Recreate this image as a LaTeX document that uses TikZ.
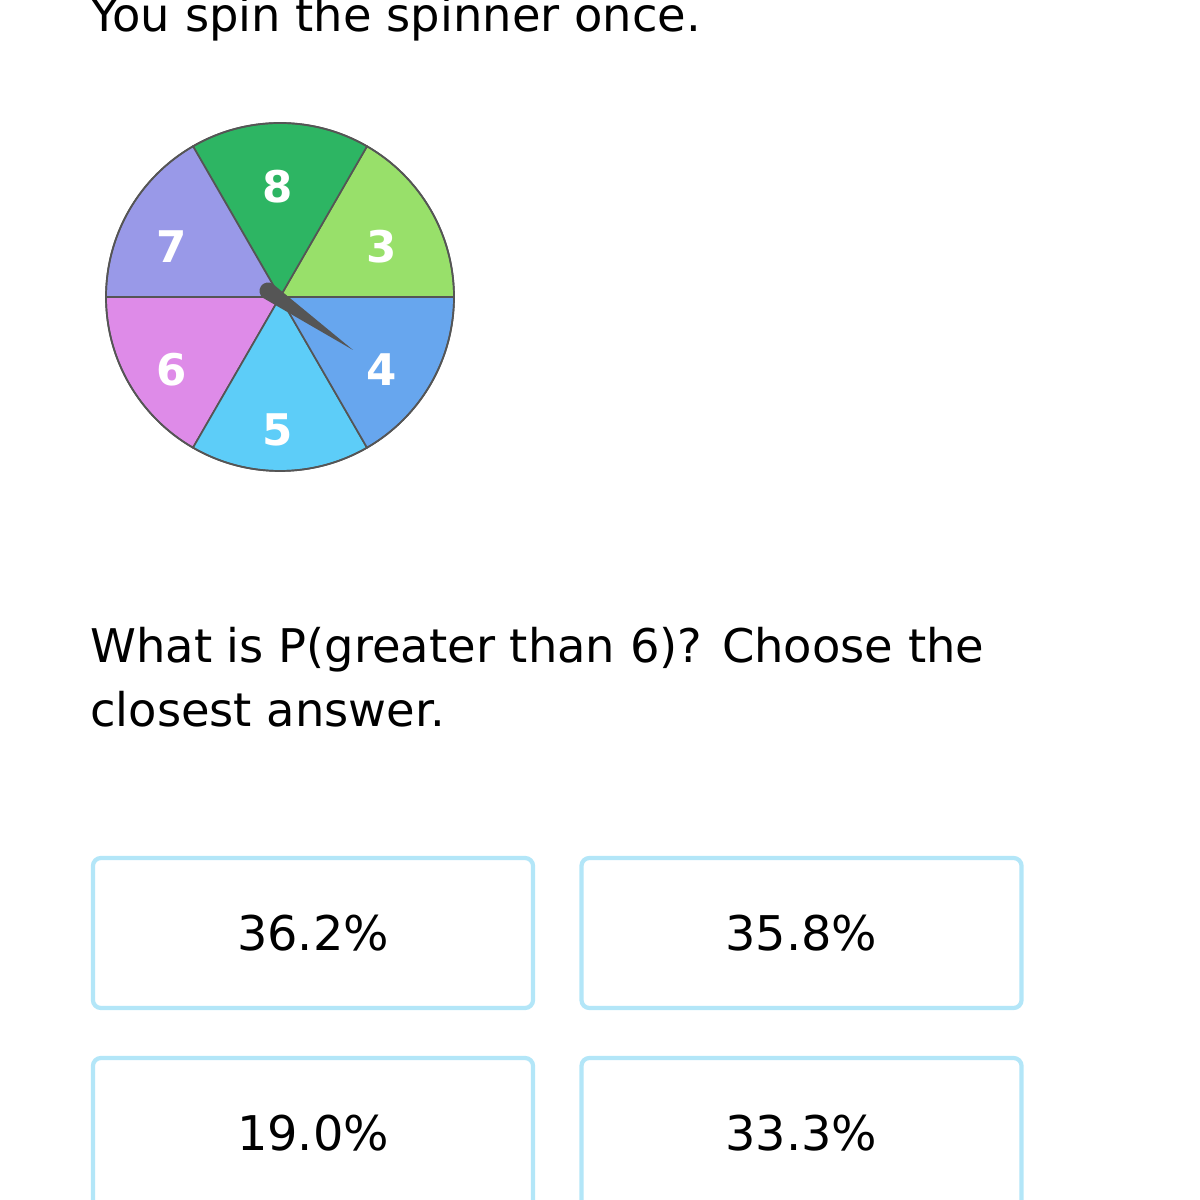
\documentclass[tikz,border=0pt]{standalone}
\usepackage{fontspec}
\setmainfont{DejaVu Sans}
\usetikzlibrary{calc}
\definecolor{wedgeeight}{HTML}{2DB563}
\definecolor{wedgethree}{HTML}{98E06A}
\definecolor{wedgeseven}{HTML}{9999E8}
\definecolor{wedgesix}{HTML}{DE8BE8}
\definecolor{wedgefive}{HTML}{5DCDF8}
\definecolor{wedgefour}{HTML}{67A6EE}
\definecolor{rimgray}{HTML}{555555}
\definecolor{boxblue}{HTML}{B3E6F8}
\def\spinwedge[#1](#2)(#3:#4:#5){\draw[#1] (#2) -- ++(#3:#5) arc (#3:#4:#5) -- cycle;}

\begin{document}
\begin{tikzpicture}[x=0.025cm, y=0.025cm,
	wedgeline/.style={draw=rimgray, line width=1.2pt},
	wedgelabel/.style={text=white, font=\fontsize{31}{31}\selectfont\bfseries},
	bodytext/.style={text=black, inner sep=0pt, font=\fontsize{33}{33}\selectfont},
	answerbox/.style={draw=boxblue, line width=3pt, rounded corners=0.2cm, fill=white,
		minimum width=11cm, minimum height=3.75cm, inner sep=0pt,
		font=\fontsize{34}{34}\selectfont}]
			%%%%% START %%%%%
			\useasboundingbox (0, 0) rectangle (1199, 1200);
			\clip (0, 0) rectangle (1199, 1200);
			
			\node[bodytext, anchor=base west] (intro) at (90, 1168) {You spin the spinner once.};
			
			\coordinate (hub) at (280, 903);
			\spinwedge[wedgeline, fill=wedgethree](hub)(0:60:174);
			\spinwedge[wedgeline, fill=wedgeeight](hub)(60:120:174);
			\spinwedge[wedgeline, fill=wedgeseven](hub)(120:180:174);
			\spinwedge[wedgeline, fill=wedgesix](hub)(180:240:174);
			\spinwedge[wedgeline, fill=wedgefive](hub)(240:300:174);
			\spinwedge[wedgeline, fill=wedgefour](hub)(300:360:174);
			\draw[wedgeline] (hub) circle (174);
			
			\node[wedgelabel] (lbleight) at (278, 1013) {8};
			\node[wedgelabel] (lblthree) at (382, 953) {3};
			\node[wedgelabel] (lblseven) at (172, 953) {7};
			\node[wedgelabel] (lblsix) at (172, 830) {6};
			\node[wedgelabel] (lblfour) at (382, 830) {4};
			\node[wedgelabel] (lblfive) at (278, 770) {5};
			
			\coordinate (pivot) at (268, 909);
			\coordinate (tip) at (353, 850);
			\fill[rimgray] ($(pivot)+(55:8.5)$) -- (tip) -- ($(pivot)+(-125:8.5)$) arc (-125:-305:8.5) -- cycle;
			
			\node[bodytext, anchor=base west] (askone) at (90, 537) {What is P(greater than 6)? Choose the};
			\node[bodytext, anchor=base west] (asktwo) at (90, 473) {closest answer.};
			
			\node[answerbox] (optone) at (313, 267) {36.2\%};
			\node[answerbox] (opttwo) at (801.5, 267) {35.8\%};
			\node[answerbox] (optthree) at (313, 67) {19.0\%};
			\node[answerbox] (optfour) at (801.5, 67) {33.3\%};
			
			%%%%% END %%%%%
\end{tikzpicture}
\end{document}
